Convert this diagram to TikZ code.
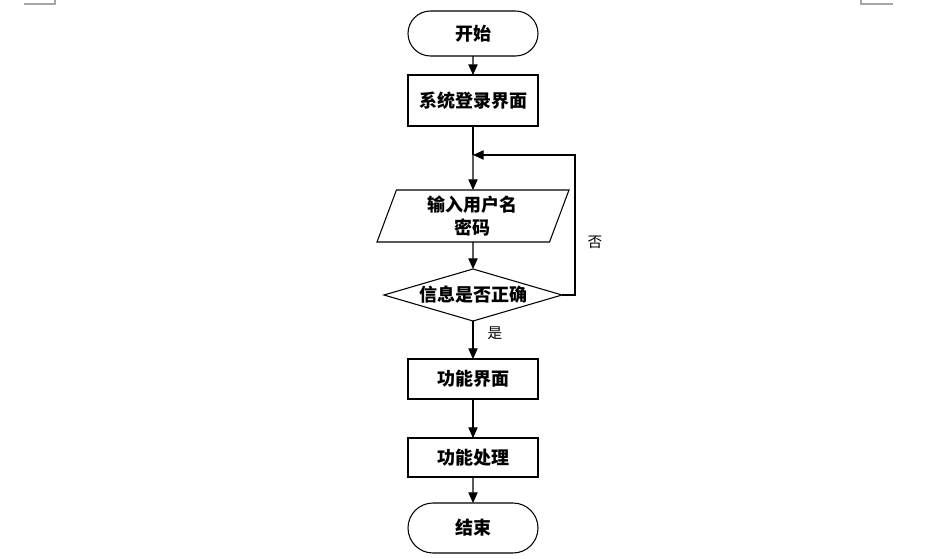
\documentclass[tikz,border=0pt]{standalone}
\usepackage{fontspec}
\newfontfamily\cjk{Noto Sans CJK SC}
\usetikzlibrary{positioning, calc, shapes.geometric, shapes.misc, arrows.meta}

\tikzset{
  base/.style={draw, line width=0.8pt, inner sep=0pt, outer sep=0pt, align=center,
               font=\cjk\bfseries\fontsize{13.5}{17}\selectfont},
  term/.style={base, rounded rectangle, minimum width=97.5pt},
  stepbox/.style={base, rectangle, minimum width=97.5pt},
  io/.style={base, trapezium, trapezium left angle=64, trapezium right angle=116,
             trapezium stretches body, minimum width=144pt, minimum height=39pt},
  test/.style={base, diamond, aspect=3.42, minimum width=133.5pt, minimum height=39pt},
  lbl/.style={font=\cjk\fontsize{11}{13}\selectfont},
  arr/.style={line width=0.8pt, -{Triangle[length=8pt,width=7pt]}},
  corner/.style={draw=gray!70, line width=0.8pt}
}

\begin{document}
\begin{tikzpicture}
  \useasboundingbox (-354.75pt,25.125pt) rectangle (354pt,-394.125pt);
  % page corners
  \draw[corner] (-336.75pt,22.125pt) -- (-313.5pt,22.125pt) -- (-313.5pt,25.125pt);
  \draw[corner] (291pt,25.125pt) -- (291pt,22.125pt) -- (315pt,22.125pt);

  \node[term, minimum height=33.75pt] (start) at (0,0) {开始};
  \node[stepbox, below=14.25pt of start, minimum height=38.25pt] (login) {系统登录界面};
  \node[io, below=48pt of login] (input) {输入用户名\\密码};
  \node[test, below=20.25pt of input] (check) {信息是否正确};
  \node[stepbox, below=28.5pt of check, minimum height=30pt] (func) {功能界面};
  \node[stepbox, below=29.25pt of func, minimum height=29.25pt] (proc) {功能处理};
  \node[term, below=19.5pt of proc, minimum height=37.5pt] (stop) {结束};

  \coordinate[below=21.75pt of login.south] (back);
  \coordinate[right=9.75pt of check.east] (turn);

  \draw[arr] (start) -- (login);
  \draw[line width=0.8pt] (login) -- (back);
  \draw[arr] (back) -- (input);
  \draw[arr] (input) -- (check);
  \draw[arr] (check) -- (func);
  \draw[arr] (func) -- (proc);
  \draw[arr] (proc) -- (stop);
  \draw[arr] (check.east) -- (turn) |- (back);

  \node[lbl] (no) at ($(turn)+(15pt,39.75pt)$) {否};
  \node[lbl] (yes) at ($(check.south)+(16.5pt,-9pt)$) {是};
\end{tikzpicture}
\end{document}
